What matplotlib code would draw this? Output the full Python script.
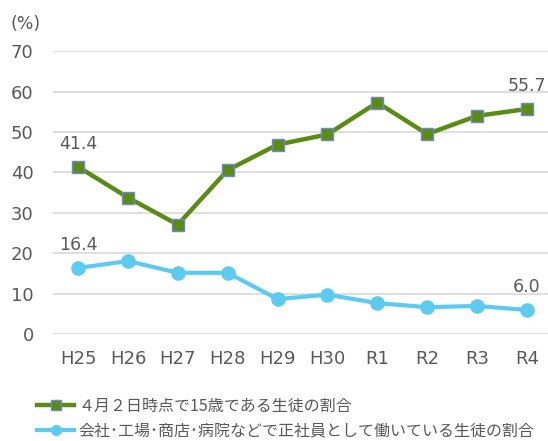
import matplotlib
matplotlib.use("Agg")
import matplotlib.pyplot as plt

plt.rcParams['font.family'] = ['DejaVu Sans', 'Noto Sans CJK JP']

years = ["H25", "H26", "H27", "H28", "H29", "H30", "R1", "R2", "R3", "R4"]
age15 = [41.4, 33.8, 27.1, 40.6, 46.9, 49.4, 57.3, 49.5, 54.0, 55.7]
fulltime = [16.4, 18.1, 15.2, 15.2, 8.7, 9.8, 7.7, 6.7, 7.0, 6.0]
yticks = [0, 10, 20, 30, 40, 50, 60, 70]
labels = ["４月２日時点で15歳である生徒の割合",
          "会社･工場･商店･病院などで正社員として働いている生徒の割合"]

GREEN = "#5a8c14"
BLUE = "#5ccbf2"
TXT = "#595959"

fig = plt.figure(figsize=(5.48, 4.41), dpi=100)
ax = fig.add_axes([0.097, 0.242, 0.91, 0.642])

x = list(range(len(years)))
l1, = ax.plot(x, age15, color=GREEN, lw=3.2, marker="s", ms=8.5,
              mfc=GREEN, mec="#6f86d6", mew=1.0, zorder=3)
l2, = ax.plot(x, fulltime, color=BLUE, lw=3.0, marker="o", ms=9.5,
              mfc=BLUE, mec=BLUE, zorder=3)

# data labels at both ends
for i in (0, len(years) - 1):
    ax.annotate(f"{age15[i]:.1f}", (x[i], age15[i]), xytext=(0, 10),
                textcoords="offset points", ha="center", va="bottom",
                fontsize=12.5, color=TXT)
    ax.annotate(f"{fulltime[i]:.1f}", (x[i], fulltime[i]), xytext=(0, 10),
                textcoords="offset points", ha="center", va="bottom",
                fontsize=12.5, color=TXT)

ax.set_xlim(-0.5, len(years) - 0.5)
ax.set_ylim(0, 70)
ax.set_yticks(yticks)
ax.set_xticks(x)
ax.set_xticklabels(years)
ax.grid(axis="y", color="#d9d9d9", lw=1.2)
ax.set_axisbelow(True)
for s in ax.spines.values():
    s.set_visible(False)
ax.tick_params(length=0, labelsize=13, colors=TXT, pad=14)
ax.tick_params(axis="x", pad=11)

fig.text(0.02, 0.935, "(%)", fontsize=12.5, color=TXT)

leg = fig.legend([l1, l2], labels, loc="lower left", bbox_to_anchor=(0.045, -0.025),
                 frameon=False, fontsize=11.5, labelcolor=TXT, handlelength=2.3,
                 handletextpad=0.3, labelspacing=0.45, borderpad=0.3,
                 prop={'family': ['Noto Sans CJK JP', 'DejaVu Sans'], 'size': 11.5})
for h in leg.legend_handles:
    h.set_markersize(7)

fig.savefig("out.png", dpi=100)
